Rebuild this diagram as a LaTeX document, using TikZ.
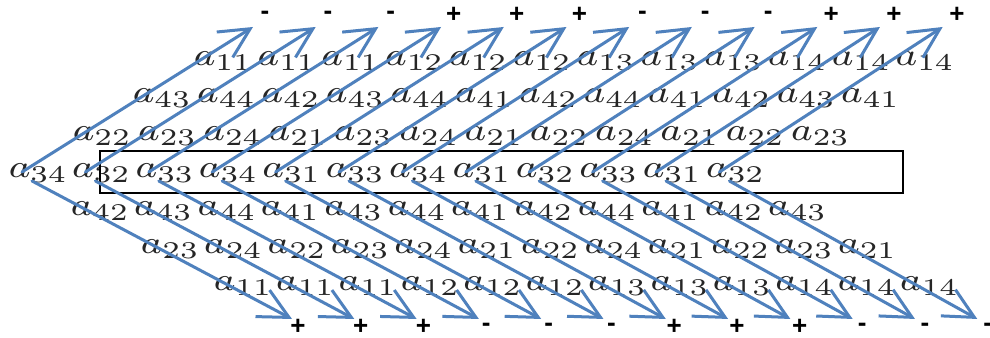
\RequirePackage{fix-cm}
\documentclass[tikz,border=0pt]{standalone}
\usepackage{fontspec}
\usepackage{graphicx}
\usetikzlibrary{arrows.meta}
\newfontfamily\signfont{Liberation Sans}
\definecolor{arrowblue}{RGB}{79,129,189}
\begin{document}
\begin{tikzpicture}[x=0.25pt,y=-0.25pt,
  entry/.style={anchor=base west, inner sep=0pt, text=black!85, font=\fontsize{8}{10}\selectfont},
  sign/.style={inner sep=0pt, text=black, font=\signfont\bfseries\fontsize{6.5}{8}\selectfont},
  diagarrow/.style={draw=arrowblue, line width=0.75pt, line cap=round, -{Straight Barb[length=7.5pt,width=7.5pt]}},
  frame/.style={draw=black, line width=0.5pt}]
\useasboundingbox (0,0) rectangle (990,338);
\fill[white] (0,0) rectangle (990,338);
% entries: row / left x / spacing / baseline / subscripts
\foreach \r/\xs/\sp/\yb/\lst in {
  1/193/63.8/66/{11,11,11,12,12,12,13,13,13,14,14,14},
  2/132/64.4/103/{43,44,42,43,44,41,42,44,41,42,43,41},
  3/72/65.3/141/{22,23,24,21,23,24,21,22,24,21,22,23},
  4/8/63.4/178/{34,32,33,34,31,33,34,31,32,33,31,32},
  5/70/63.4/216/{42,43,44,41,43,44,41,42,44,41,42,43},
  6/140/63.4/254/{23,24,22,23,24,21,22,24,21,22,23,21},
  7/213/62.4/291/{11,11,11,12,12,12,13,13,13,14,14,14}}{
  \foreach \v [count=\k from 0] in \lst {
    \node[entry] (e\r-\k) at ({\xs+\sp*\k},\yb) {\scalebox{1.2}[1]{$a_{\v}$}};
  }
}
% frame around the middle row
\draw[frame] (100,151) rectangle (903,193);
% top signs
\foreach \sg [count=\k from 0] in {-,-,-,+,+,+,-,-,-,+,+,+}{
  \node[sign] (tp\k) at ({265+62.9*\k},15) {\sg};
}
% bottom signs
\foreach \sg [count=\k from 0] in {+,+,+,-,-,-,+,+,+,-,-,-}{
  \node[sign] (bt\k) at ({298+62.7*\k},327) {\sg};
}
% arrows
\foreach \k in {0,...,11}{
  \coordinate (us\k) at ({22+63.4*\k},172);
  \coordinate (ut\k) at ({253+62.7*\k},27);
  \draw[diagarrow] (us\k) -- (ut\k);
  \coordinate (ds\k) at ({32+63.4*\k},181);
  \coordinate (dt\k) at ({292+62.3*\k},319);
  \draw[diagarrow] (ds\k) -- (dt\k);
}
\end{tikzpicture}
\end{document}
